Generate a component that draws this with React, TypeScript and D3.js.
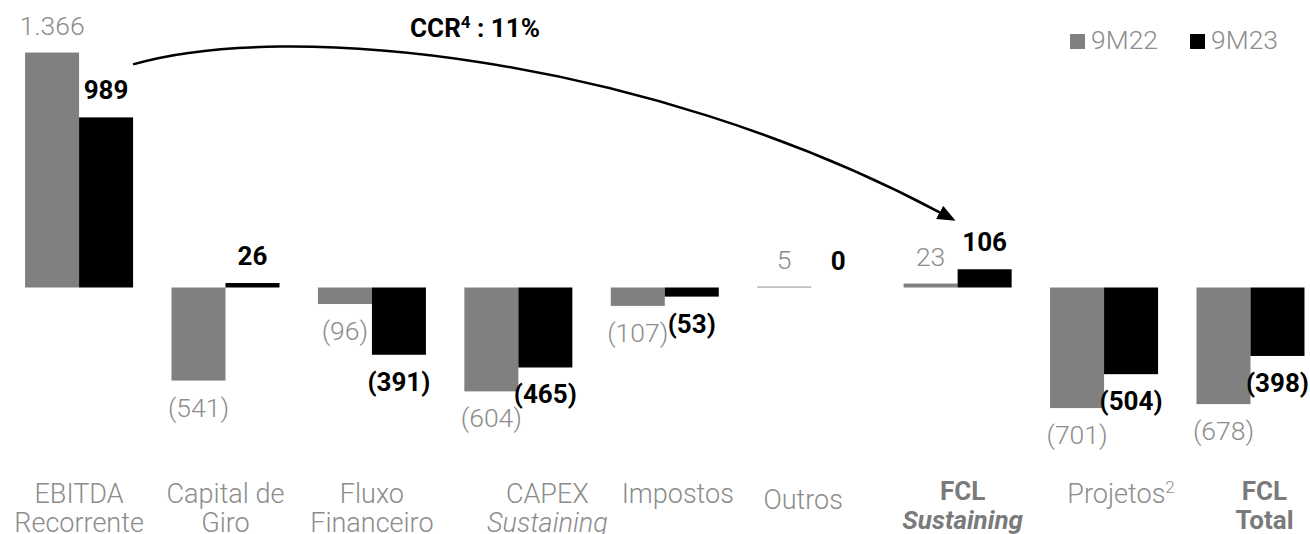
import React, { useEffect } from "react";
import * as d3 from "d3";

// values in R$ million
const categories = [
  "EBITDA Recorrente",
  "Capital de Giro",
  "Fluxo Financeiro",
  "CAPEX Sustaining",
  "Impostos",
  "Outros",
  "FCL Sustaining",
  "Projetos",
  "FCL Total",
];
const seriesNames = ["9M22", "9M23"];
const values9M22 = [1366, -541, -96, -604, -107, 5, 23, -701, -678];
const values9M23 = [989, 26, -391, -465, -53, 0, 106, -504, -398];

// tick label lines: [text, italic?] ; bold categories listed separately
const tickLines: [string, boolean][][] = [
  [["EBITDA", false], ["Recorrente", false]],
  [["Capital de", false], ["Giro", false]],
  [["Fluxo", false], ["Financeiro", false]],
  [["CAPEX", false], ["Sustaining", true]],
  [["Impostos", false]],
  [["Outros", false]],
  [["FCL", false], ["Sustaining", true]],
  [["Projetos", false]],
  [["FCL", false], ["Total", false]],
];
const boldTicks = ["FCL Sustaining", "FCL Total"];
const superTicks: Record<string, string> = { Projetos: "2" };
const ccrLabel = "CCR";
const ccrSup = "4";
const ccrValue = " : 11%";

// small manual nudges of tick labels, as in the source slide
const tickDx: Record<string, number> = {
  "CAPEX Sustaining": 29,
  Impostos: 13,
  Outros: -8,
  "FCL Sustaining": 5,
  Projetos: 17,
  "FCL Total": 14,
};
const tickDy: Record<string, number> = { Outros: 6, "FCL Sustaining": -3, "FCL Total": -3 };

const W = 1310;
const H = 534;
const GRAY = "#808080";
const LIGHT_TEXT = "#8c8c8c";
const FONT = "Roboto, 'Noto Sans', sans-serif";

const fmt = (v: number) => {
  const s = d3.format(",")(Math.abs(v)).replace(/,/g, ".");
  return v < 0 ? `(${s})` : s;
};

export default function App() {
  useEffect(() => {
    document.body.style.margin = "0";
  }, []);

  const x = d3
    .scaleBand<string>()
    .domain(categories)
    .range([5.86, 1323.7])
    .paddingInner(0.2624)
    .paddingOuter(0.1312);
  const xs = d3.scaleBand<string>().domain(seriesNames).range([0, x.bandwidth()]);
  const y = d3.scaleLinear().domain([-800, 1400]).range([425.1, 46.7]);

  const series = [
    { name: "9M22", values: values9M22, fill: GRAY },
    { name: "9M23", values: values9M23, fill: "#000" },
  ];

  // CCR arrow: from the EBITDA 9M23 bar to the FCL Sustaining 9M23 label
  const p0: [number, number] = [x(categories[0])! + x.bandwidth(), y(values9M23[0]) - 53];
  const tip: [number, number] = [x(categories[6])! + x.bandwidth() / 2 - 3, y(values9M23[6]) - 49];
  const dir = [0.8836, 0.4683];
  const base: [number, number] = [tip[0] - 17 * dir[0], tip[1] - 17 * dir[1]];
  const arrowPath = d3.path();
  arrowPath.moveTo(p0[0], p0[1]);
  arrowPath.bezierCurveTo(p0[0] + 150, p0[1] - 44, base[0] - 300, base[1] - 159, base[0], base[1]);

  return (
    <svg
      width={W}
      height={H}
      style={{ position: "absolute", left: 0, top: 0, fontFamily: FONT }}
    >
      <defs>
        <marker
          id="arrowHead"
          markerUnits="userSpaceOnUse"
          markerWidth={18}
          markerHeight={15}
          refX={0}
          refY={7.5}
          orient="auto"
        >
          <path d="M0,0 L18,7.5 L0,15 Z" fill="#000" />
        </marker>
      </defs>

      {/* bars */}
      {series.map((s) => (
        <g key={s.name}>
          {s.values.map((v, i) => {
            const x0 = x(categories[i])! + xs(s.name)!;
            return (
              <rect
                key={i}
                x={x0}
                y={Math.min(y(v), y(0))}
                width={xs.bandwidth()}
                height={Math.abs(y(v) - y(0))}
                fill={s.fill}
              />
            );
          })}
        </g>
      ))}

      {/* value labels */}
      {series.map((s, si) => (
        <g key={s.name + "-lab"}>
          {s.values.map((v, i) => {
            const cx = x(categories[i])! + xs(s.name)! + xs.bandwidth() / 2;
            const ty = v >= 0 ? y(v) - 18 : y(v) + 36;
            return (
              <text
                key={i}
                x={cx}
                y={ty}
                textAnchor="middle"
                fontSize={si === 0 ? 26.5 : 26}
                fontWeight={si === 0 ? 300 : 700}
                fill={si === 0 ? LIGHT_TEXT : "#000"}
              >
                {fmt(v)}
              </text>
            );
          })}
        </g>
      ))}

      {/* category labels */}
      {categories.map((c, i) => {
        const cx = x(c)! + x.bandwidth() / 2 + (tickDx[c] ?? 0);
        const bold = boldTicks.includes(c);
        const dy = tickDy[c] ?? 0;
        return (
          <text
            key={c}
            textAnchor="middle"
            fontSize={bold ? 26 : 27}
            fontWeight={bold ? 700 : 300}
            fill={bold ? "#7a7a7a" : LIGHT_TEXT}
          >
            {tickLines[i].map(([t, it], li) => (
              <tspan key={li} x={cx} y={503 + dy + li * 29} fontStyle={it ? "italic" : "normal"}>
                {t}
                {superTicks[t] && (
                  <tspan fontSize={17} dy={-10}>
                    {superTicks[t]}
                  </tspan>
                )}
              </tspan>
            ))}
          </text>
        );
      })}

      {/* CCR arrow */}
      <path
        d={arrowPath.toString()}
        fill="none"
        stroke="#000"
        strokeWidth={2.5}
        markerEnd="url(#arrowHead)"
      />
      <text x={475} y={37} textAnchor="middle" fontSize={26} fontWeight={700} fill="#000">
        {ccrLabel}
        <tspan fontSize={17} dy={-9}>
          {ccrSup}
        </tspan>
        <tspan dy={9}>{ccrValue}</tspan>
      </text>

      {/* legend */}
      {series.map((s, i) => {
        const lx = 1070 + i * 120;
        return (
          <g key={s.name + "-leg"} transform={`translate(${lx},34)`}>
            <rect width={15} height={15} fill={s.fill} />
            <text x={21} y={15} fontSize={26.5} fontWeight={300} fill={LIGHT_TEXT}>
              {s.name}
            </text>
          </g>
        );
      })}
    </svg>
  );
}
